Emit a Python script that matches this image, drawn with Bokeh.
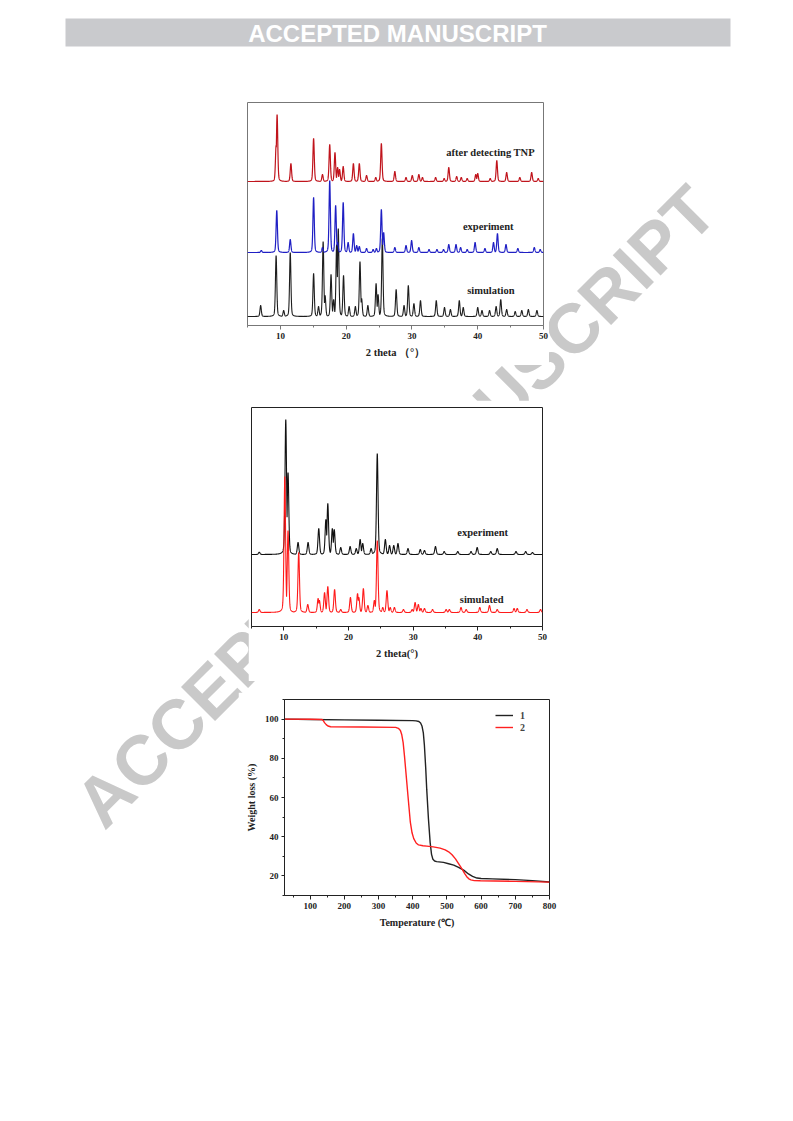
import numpy as np
from bokeh.plotting import figure
from bokeh.layouts import column
from bokeh.models import Range1d, FixedTicker, Legend, LegendItem
from bokeh.embed import file_html
from bokeh.resources import INLINE
from bokeh.core.properties import value

SERIF = "Liberation Serif"
SANS = "Liberation Sans"

# ---------------- Chart 1: PXRD (2 theta 5-50) ----------------
c1_tnp_pos = [9.35, 9.5, 11.6, 15.05, 16.4, 17.5, 18.3, 18.7, 19.0, 19.55, 21.1, 22.0, 23.1, 24.5,
              25.35, 27.4, 29.1, 30.05, 31.05, 31.6, 33.6, 34.9, 35.6, 36.8, 37.5, 38.4, 39.7, 40.0,
              41.9, 42.9, 44.4, 46.4, 48.2, 49.2]
c1_tnp_h = [36, 67, 18, 43, 7, 37, 29, 14, 12, 15, 18, 18, 6, 4,
            38, 10, 4, 6, 7, 4, 4, 3, 14, 5, 4, 3, 7, 8,
            3, 21, 9, 4, 9, 3]
c1_exp_pos = [7.1, 9.45, 11.5, 15.05, 16.4, 17.5, 18.4, 18.7, 19.55, 20.3, 21.1, 21.6, 22.0, 23.1,
              24.1, 24.6, 25.35, 25.7, 27.4, 29.1, 29.95, 31.05, 32.6, 33.8, 34.8, 35.6, 36.7, 37.4,
              38.4, 39.6, 41.1, 42.4, 43.0, 44.3, 46.1, 48.6, 49.5]
c1_exp_h = [2, 42, 13, 55, 5, 72, 47, 10, 50, 10, 19, 7, 6, 4,
            3, 4, 43, 20, 5, 7, 12, 5, 3, 3, 3, 8, 8, 5,
            3, 10, 4, 10, 19, 8, 4, 5, 3]
c1_sim_pos = [7.0, 9.35, 10.5, 11.5, 15.05, 15.8, 16.5, 16.8, 17.7, 18.1, 18.55, 18.8, 19.6, 20.45,
              21.4, 22.1, 22.35, 23.3, 24.55, 24.85, 25.5, 27.6, 28.8, 29.45, 30.3, 31.3, 33.7, 34.95,
              35.85, 37.2, 37.8, 40.0, 40.65, 41.8, 42.8, 43.5, 44.4, 45.7, 46.7, 47.7, 49.0]
c1_sim_h = [11, 61, 6, 64, 43, 10, 75, 21, 42, 17, 72, 88, 41, 10,
            10, 55, 18, 11, 33, 22, 78, 27, 11, 31, 13, 16, 16, 9,
            7, 16, 9, 9, 6, 6, 10, 17, 7, 5, 6, 7, 6]
c1_offsets = [144, 73, 9]          # tnp, experiment, simulation baselines
c1_labels = ["after detecting TNP", "experiment", "simulation"]

# ---------------- Chart 2: PXRD ----------------
c2_exp_pos = [6.2, 10.3, 10.65, 12.2, 13.75, 15.4, 16.5, 16.8, 17.5, 17.8, 18.8, 20.25, 21.2, 21.8,
              22.2, 23.5, 24.45, 25.7, 26.35, 27.0, 27.65, 29.2, 31.1, 31.75, 33.45, 34.8, 36.9,
              38.95, 39.9, 42.0, 43.0, 45.9, 47.4, 48.45]
c2_exp_h = [2.3, 135, 82, 12, 12, 26, 35, 51, 26, 25, 7, 8, 6, 15,
            11, 6, 101, 15, 9, 9, 11, 6, 5, 4, 8, 3, 3,
            3, 7, 3, 6, 3, 3, 2]
c2_sim_pos = [6.2, 10.15, 10.65, 12.3, 13.7, 15.3, 15.5, 16.3, 16.8, 17.85, 18.8, 20.3, 21.4, 21.6,
              22.3, 23.0, 24.0, 24.45, 25.3, 25.95, 26.45, 27.1, 28.5, 29.85, 30.3, 30.8, 31.2, 31.75,
              33.0, 35.1, 35.6, 37.4, 38.2, 40.3, 41.8, 43.0, 45.6, 46.1, 47.6, 49.7]
c2_sim_h = [3, 136, 82, 60, 8, 14, 12, 20, 26, 23, 3, 15, 19, 15,
            24, 7, 12, 72, 5, 22, 5, 5, 3, 3, 10, 8, 4, 4,
            3, 3, 3, 5, 3, 5, 7, 3, 4, 4, 3, 3]
c2_offsets = [72, 14]               # experiment, simulated baselines
c2_labels = ["experiment", "simulated"]

# ---------------- Chart 3: TGA ----------------
tga1_T = [25, 100, 200, 300, 400, 410, 418, 423, 427, 431, 434, 438, 441, 446, 451, 455, 459, 464,
          470, 490, 505, 520, 534, 550, 563, 575, 588, 600, 632, 700, 750, 800]
tga1_W = [100, 99.8, 99.6, 99.4, 99.2, 99.1, 98.8, 98.0, 96.5, 93, 87, 75, 64, 49, 37, 31, 28.5, 27.6,
          27.3, 26.9, 26.2, 25.5, 24.4, 22.8, 21.0, 19.8, 18.9, 18.7, 18.5, 18.1, 17.6, 16.9]
tga2_T = [25, 100, 135, 138, 142, 147, 152, 160, 250, 350, 358, 364, 368, 372, 376, 380, 386, 393,
          398, 403, 410, 417, 430, 441, 460, 480, 495, 505, 515, 525, 535, 544, 552, 558, 564, 570,
          580, 598, 700, 800]
tga2_W = [100, 99.9, 99.8, 99.3, 98.2, 97.2, 96.5, 96.1, 96.0, 95.8, 95.3, 94.2, 92, 88, 81, 73, 61, 47.4,
          42, 39, 36.8, 35.8, 35.4, 35.2, 34.8, 34.2, 33.3, 32.3, 30.8, 28.7, 26, 23.6, 21.2, 19.6, 18.5, 18.0,
          17.6, 17.5, 17.2, 16.8]
tga_labels = ["1", "2"]


def pattern(grid, pos, h, hwhm):
    p = np.asarray(pos, float)[:, None]
    a = np.asarray(h, float)[:, None]
    d = (grid[None, :] - p) / hwhm
    prof = 0.7 * np.exp(-np.log(2) * d ** 2) + 0.3 / (1 + d ** 2)
    return (a * prof).max(axis=0)


def style_axis(ax, color, label, label_size="10.5px"):
    ax.axis_line_color = color
    ax.major_tick_line_color = color
    ax.minor_tick_line_color = color
    ax.major_tick_in = 0
    ax.major_tick_out = 4
    ax.minor_tick_in = 0
    ax.minor_tick_out = 2
    ax.major_label_text_font = SERIF
    ax.major_label_text_font_style = "bold"
    ax.major_label_text_font_size = "9px"
    ax.major_label_text_color = "#222222"
    ax.major_label_standoff = 3
    ax.axis_label = label
    ax.axis_label_text_font = SERIF
    ax.axis_label_text_font_style = "bold"
    ax.axis_label_text_font_size = label_size
    ax.axis_label_text_color = "#222222"
    ax.axis_label_standoff = 5


def pos_style(left, top):
    return {"position": "absolute", "left": f"{left}px", "top": f"{top}px"}


# ---------------- background page ----------------
bg = figure(width=793, height=1121, x_range=Range1d(0, 793), y_range=Range1d(1121, 0),
            toolbar_location=None, output_backend="svg", min_border=0, title=None,
            x_axis_type=None, y_axis_type=None, outline_line_color=None, frame_align=False)
bg.xgrid.visible = False
bg.ygrid.visible = False
bg.quad(left=[65], right=[730], top=[18], bottom=[46], fill_color="#c9cacd", line_color=None)
bg.text(x=[397], y=[33], text=["ACCEPTED MANUSCRIPT"], text_align="center", text_baseline="middle",
        text_color="white", text_font=value(SANS), text_font_style="bold", text_font_size="24px")
bg.text(x=[395], y=[506], text=["ACCEPTED MANUSCRIPT"], angle=np.pi / 4, text_align="center",
        text_baseline="middle", text_color="#c9c9c9", text_font=value(SANS),
        text_font_style="bold", text_font_size="70px")

# ---------------- chart 1 ----------------
g1 = np.linspace(5, 50, 4501)
c1 = figure(width=306, height=267, x_range=Range1d(5, 50), y_range=Range1d(0, 223),
            toolbar_location=None, output_backend="svg", y_axis_location=None, title=None,
            min_border_left=4, min_border_right=6, min_border_top=4, min_border_bottom=40,
            frame_align=False, styles=pos_style(243, 98))
c1.xgrid.visible = False
c1.ygrid.visible = False
c1.outline_line_color = "#777777"
c1.xaxis.ticker = FixedTicker(ticks=[10, 20, 30, 40, 50], minor_ticks=[5, 15, 25, 35, 45])
style_axis(c1.xaxis[0], "#777777", "2 theta （°）")
c1.line(g1, c1_offsets[2] + pattern(g1, c1_sim_pos, c1_sim_h, 0.12), line_color="#1e1e1e", line_width=1.1)
c1.line(g1, c1_offsets[1] + pattern(g1, c1_exp_pos, c1_exp_h, 0.12), line_color="#1f1fc4", line_width=1.2)
c1.line(g1, c1_offsets[0] + pattern(g1, c1_tnp_pos, c1_tnp_h, 0.12), line_color="#c0141c", line_width=1.2)
c1.text(x=[48.7], y=[173], text=[c1_labels[0]], text_align="right", text_baseline="middle",
        text_font=value(SERIF), text_font_style="bold", text_font_size="10.5px", text_color="#222222")
c1.text(x=[41.6, 42.0], y=[99, 35], text=c1_labels[1:], text_align="center", text_baseline="middle",
        text_font=value(SERIF), text_font_style="bold", text_font_size="10.5px", text_color="#222222")

# ---------------- chart 2 ----------------
g2 = np.linspace(5, 50, 4501)
c2 = figure(width=300, height=281, x_range=Range1d(5, 50), y_range=Range1d(0, 219),
            toolbar_location=None, output_backend="svg", y_axis_location=None, title=None,
            min_border_left=3, min_border_right=6, min_border_top=7, min_border_bottom=55,
            frame_align=False, styles=pos_style(248, 400))
c2.xgrid.visible = False
c2.ygrid.visible = False
c2.outline_line_color = "#222222"
c2.xaxis.ticker = FixedTicker(ticks=[10, 20, 30, 40, 50], minor_ticks=[5, 15, 25, 35, 45])
style_axis(c2.xaxis[0], "#222222", "2 theta(°)")
c2.line(g2, c2_offsets[0] + pattern(g2, c2_exp_pos, c2_exp_h, 0.14), line_color="#111111", line_width=1.1)
c2.line(g2, c2_offsets[1] + pattern(g2, c2_sim_pos, c2_sim_h, 0.14), line_color="#ff1a1a", line_width=1.1)
c2.text(x=[40.75, 40.6], y=[94, 27], text=c2_labels, text_align="center", text_baseline="middle",
        text_font=value(SERIF), text_font_style="bold", text_font_size="10.5px", text_color="#222222")

# ---------------- chart 3 ----------------
c3 = figure(width=319, height=243, x_range=Range1d(25, 800), y_range=Range1d(10, 110),
            toolbar_location=None, output_backend="svg", title=None,
            min_border_left=46, min_border_right=8, min_border_top=7, min_border_bottom=40,
            frame_align=False, styles=pos_style(238, 692))
c3.xgrid.visible = False
c3.ygrid.visible = False
c3.outline_line_color = "#222222"
c3.xaxis.ticker = FixedTicker(ticks=list(range(100, 801, 100)), minor_ticks=list(range(50, 801, 100)))
c3.yaxis.ticker = FixedTicker(ticks=[20, 40, 60, 80, 100], minor_ticks=[10, 30, 50, 70, 90, 110])
style_axis(c3.xaxis[0], "#222222", "Temperature (℃)", "10px")
style_axis(c3.yaxis[0], "#222222", "Weight loss (%)", "10px")
c3.yaxis[0].major_tick_out = 3
c3.yaxis[0].major_label_standoff = 3
r1 = c3.line(tga1_T, tga1_W, line_color="#222222", line_width=1.4)
r2 = c3.line(tga2_T, tga2_W, line_color="#ff2020", line_width=1.4)
leg = Legend(items=[LegendItem(label=tga_labels[0], renderers=[r1]),
                    LegendItem(label=tga_labels[1], renderers=[r2])],
             location=(211, 162), border_line_color=None, background_fill_alpha=0,
             label_text_font=SERIF, label_text_font_style="bold", label_text_font_size="10px",
             glyph_width=18, glyph_height=12, label_height=12, spacing=0, padding=0, margin=0,
             label_standoff=7)
c3.add_layout(leg)

p = column(bg, c1, c2, c3)
open("out.html", "w").write(file_html(p, INLINE))
